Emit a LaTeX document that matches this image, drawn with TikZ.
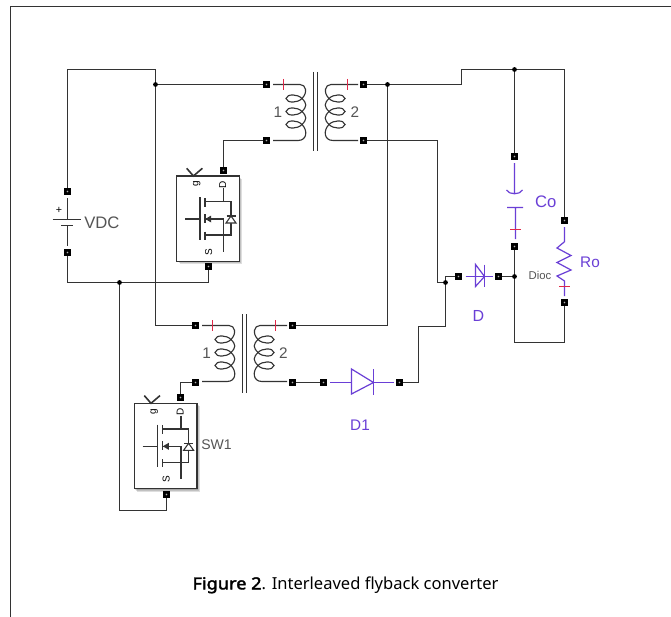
\documentclass[tikz,border=0pt]{standalone}
\usepackage{fontspec}
\setmainfont{Liberation Sans}
\newfontfamily\capfont{Noto Sans}
\newfontfamily\capbold[FakeBold=2.4,FakeStretch=1.1]{Noto Sans}
\usetikzlibrary{calc}
\definecolor{wirec}{HTML}{333333}
\definecolor{purp}{HTML}{6A3FD6}
\definecolor{redc}{HTML}{E02848}
\definecolor{labc}{HTML}{555555}
\newcommand{\coilat}[3]{%
  \begin{scope}[shift={(#1,#2)},xscale=#3]
    \draw[coilline] (-26,0) -- (1,0)
      .. controls (7,0) and (9,8) .. (3,14)
      .. controls (-1,18.5) and (-12,19) .. (-13,14)
      .. controls (-12,9) and (-1,9.5) .. (3,14)
      .. controls (8,19) and (8,22) .. (3,27)
      .. controls (-1,31.5) and (-12,32) .. (-13,27)
      .. controls (-12,22) and (-1,22.5) .. (3,27)
      .. controls (8,32) and (8,35) .. (3,40)
      .. controls (-1,44.5) and (-12,45) .. (-13,40)
      .. controls (-12,35) and (-1,35.5) .. (3,40)
      .. controls (9,46) and (8,56) .. (-1,56) -- (-26,56);
  \end{scope}}
\tikzset{
  x=0.75pt,y=-0.75pt,
  wire/.style={draw=wirec,line width=1.1pt},
  coilline/.style={draw=wirec,line width=0.85pt},
  frameline/.style={draw=wirec,line width=1.1pt},
  comp/.style={draw=purp,line width=0.9pt},
  redtick/.style={draw=redc,line width=1pt},
  term/.style={fill=black,minimum size=5.4pt,inner sep=0pt,outer sep=0pt,rectangle,
    path picture={\fill[white!70!black] (path picture bounding box.center) circle (0.7pt);}},
  junc/.style={circle,fill=black,minimum size=3.6pt,inner sep=0pt,outer sep=0pt},
  lab/.style={text=labc,font=\fontsize{11.5}{13}\selectfont,inner sep=0pt},
  plab/.style={text=purp,font=\fontsize{11.5}{13}\selectfont,inner sep=0pt},
  swl/.style={text=black,font=\fontsize{7.5}{8}\selectfont,inner sep=0pt,rotate=90},
  mosfet/.pic={
    \foreach \k in {1,2,3}{\fill[black,opacity=.13] (\k,\k) rectangle (62.7+\k,85.3+\k);}
    \draw[draw=wirec,fill=white,line width=1.1pt] (0,0) rectangle (62.7,85.3);
    \draw[wirec,line width=1.2pt] (10,-7.7) -- (16.7,0) -- (25.7,-7.7);
    \node[swl] at (20,8) {g};
    \node[swl] at (46,9) {D};
    \node[swl] at (32,76) {S};
    \draw[wirec,line width=.8pt] (8.3,43) -- (23.3,43)
      (23.3,21.3) -- (23.3,64)
      (28.3,22) -- (28.3,30.7) (28.3,38) -- (28.3,47) (28.3,55.7) -- (28.3,64)
      (28.3,25.7) -- (54.3,25.7) -- (54.3,59) -- (28.3,59)
      (46.7,12.3) -- (46.7,25.7)
      (28.3,43) -- (46.7,43) -- (46.7,75.7)
      (50,40) -- (59,40);
    \fill[wirec] (28.5,43) -- (34.5,39.5) -- (34.5,46.5) -- cycle;
    \draw[wirec,line width=.8pt,fill=white] (54.3,40) -- (59.3,47) -- (49.3,47) -- cycle;
  }
}
\begin{document}
\begin{tikzpicture}
\useasboundingbox (0,0) rectangle (671,617);
\fill[white] (0,0) rectangle (671,617);
\draw[frameline] (10.5,617) -- (10.5,6.5) -- (671,6.5);

% terminals
\foreach \n/\x/\y in {t1/266.5/84.5,t2/266.5/140.5,t3/363.5/84.5,t4/363.5/140.5,
  t5/195.5/325.5,t6/195.5/382.5,t7/292.5/325.5,t8/292.5/382.5,
  da/323.5/382.5,db/399.5/382.5,ea/458.5/276.5,eb/498.5/276.5,
  c1/514.5/156.5,c2/514.5/246.5,r1/564.5/220.5,r2/564.5/302.5,
  v1/67.5/191.5,v2/67.5/252.5,
  sa/223.5/170.5,sb/208.5/266.5,sc/180.5/397.5,sd/166.5/494.5}
  {\node[term] (\n) at (\x,\y) {};}

% junctions
\foreach \n/\x/\y in {ja/155.5/84.5,jb/387.5/84.5,jc/514.5/69.5,jd/445.5/282.5,je/119.5/282.5,jf/514.5/276.5}
  {\node[junc] (\n) at (\x,\y) {};}

% corners
\coordinate (ctl) at (67.5,69.5);
\coordinate (cm) at (155.5,69.5);
\coordinate (cb) at (155.5,325.5);
\coordinate (cr) at (387.5,325.5);
\coordinate (st1) at (461.5,84.5);
\coordinate (st2) at (461.5,69.5);
\coordinate (ctr) at (564.5,69.5);
\coordinate (cd1) at (437.5,140.5);
\coordinate (cd2) at (437.5,282.5);
\coordinate (vb) at (67.5,282.5);
\coordinate (sbc) at (208.5,282.5);
\coordinate (lb1) at (119.5,510.5);
\coordinate (lb2) at (166.5,510.5);
\coordinate (d1) at (418.5,382.5);
\coordinate (d2) at (418.5,326.5);
\coordinate (d3) at (445.5,326.5);
\coordinate (d4) at (445.5,276.5);
\coordinate (o1) at (514.5,342.5);
\coordinate (o2) at (564.5,342.5);

% wires
\draw[wire] (v1) -- (ctl) -- (cm) -- (ja) -- (cb) -- (t5);
\draw[wire] (ja) -- (t1);
\draw[wire] (t2) -| (sa);
\draw[wire] (t3) -- (jb) -- (st1) -- (st2) -- (jc) -- (ctr) -- (r1);
\draw[wire] (jb) -- (cr) -- (t7);
\draw[wire] (t4) -- (cd1) -- (cd2) -- (jd);
\draw[wire] (v2) -- (vb) -- (je) -- (sbc) -- (sb);
\draw[wire] (je) -- (lb1) -- (lb2) -- (sd);
\draw[wire] (t6) -| (sc);
\draw[wire] (t8) -- (da);
\draw[wire] (db) -- (d1) -- (d2) -- (d3) -- (jd) -- (d4) -- (ea);
\draw[wire] (eb) -- (jf);
\draw[wire] (jc) -- (c1);
\draw[wire] (c2) -- (jf) -- (o1) -- (o2) -- (r2);

% transformer 1
\coilat{299}{84.5}{1}
\coilat{332}{84.5}{-1}
\draw[coilline,line width=1pt] (313.5,72) -- (313.5,150.7) (317.5,72) -- (317.5,150.7);
\draw[redtick] (283.5,79) -- (283.5,90) (347.5,79) -- (347.5,90);
\node[lab] at (278,112) {1};
\node[lab] at (355,112) {2};

% transformer 2
\coilat{228}{325.5}{1}
\coilat{261}{325.5}{-1}
\draw[coilline,line width=1pt] (242.5,314) -- (242.5,392.7) (246.5,314) -- (246.5,392.7);
\draw[redtick] (212.5,320) -- (212.5,331) (275.5,320) -- (275.5,331);
\node[lab] at (206.7,353.3) {1};
\node[lab] at (283.3,353.3) {2};

% switches
\pic at (176.7,176) {mosfet};
\pic at (134.3,403.3) {mosfet};
\node[lab,anchor=west,font=\fontsize{10.5}{12}\selectfont] at (201,445) {SW1};

% battery
\draw[wirec,line width=.9pt] (67.5,198) -- (67.5,219.5) (52.7,219.5) -- (81,219.5)
  (61,225.5) -- (72.7,225.5) (67.5,225.5) -- (67.5,246);
\node[font=\fontsize{8}{9}\selectfont,inner sep=0pt] at (59,210) {+};
\node[lab,anchor=west,font=\fontsize{12.5}{14}\selectfont] at (84,223) {VDC};

% diode D1
\draw[comp] (330,382.5) -- (351.5,382.5) (373.5,382.5) -- (394,382.5) (373.5,369) -- (373.5,395);
\draw[comp] (351.5,369) -- (373.5,382.5) -- (351.5,394) -- cycle;
\node[plab] at (360,425) {D1};

% diode D
\draw[comp] (465.7,276.5) -- (492.7,276.5) (484.5,264.5) -- (484.5,286.5);
\draw[comp] (475.5,264.5) -- (484.5,276.5) -- (475.5,286.5) -- cycle;
\node[plab,font=\fontsize{12}{14}\selectfont] at (478.3,315.7) {D};

% capacitor
\draw[comp] (514.5,163) -- (514.5,193.5)
  (506.5,190) .. controls (509,195) and (520,195) .. (522.5,190)
  (507,207.5) -- (523,207.5) (515.5,207.5) -- (515.5,239);
\draw[redtick] (510,229.5) -- (521,229.5);
\node[plab,font=\fontsize{12.5}{14}\selectfont] at (545.7,201.7) {Co};

% resistor
\draw[comp] (564.5,227) -- (564.5,241.7) -- (557,248) -- (571,255.5) -- (557,262.5) -- (571,270) -- (557,276) -- (564.5,281) -- (564.5,296);
\draw[redtick] (559,286.5) -- (570,286.5);
\node[plab] at (590,262) {Ro};
\node[lab,font=\fontsize{8.5}{10}\selectfont] at (540,275) {Dioc};

% caption
\node[font=\capfont\fontsize{12.4}{14}\selectfont,text=black,inner sep=0pt] (cap) at (345.5,585) {{\capbold Figure 2}. Interleaved flyback converter};
\end{tikzpicture}
\end{document}
